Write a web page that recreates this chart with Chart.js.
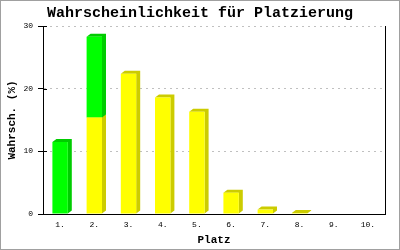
<!DOCTYPE html>
<html>
<head>
<meta charset="utf-8">
<script src="https://cdn.jsdelivr.net/npm/chart.js@4/dist/chart.umd.min.js"></script>
<style>
body{margin:0;background:#fff}
#wrap{width:400px;height:250px}
</style>
</head>
<body>
<div id="wrap"><canvas id="chart" width="400" height="250"></canvas></div>
<script>

let places=["1.","2.","3.","4.","5.","6.","7.","8.","9.","10."]

let yellowValues=[0,15.4,22.4,18.6,16.3,3.4,0.7,0.15,0,0]

let greenValues=[11.5,12.9,0,0,0,0,0,0,0,0]

let yTicks=[0,10,20,30]

let mono="'Liberation Mono', 'DejaVu Sans Mono', monospace"

// draws the right side and top of each bar so they look 3D
let depthPlugin={
id:"depth",
beforeDatasetsDraw(chart){
let ctx=chart.ctx
let dx=4,dy=3
chart.data.datasets.forEach((ds,i)=>{
let meta=chart.getDatasetMeta(i)
meta.data.forEach((bar,j)=>{
if(!ds.data[j]) return
let p=bar.getProps(["x","y","base","width"],true)
let l=p.x-p.width/2,r=p.x+p.width/2
ctx.save()
ctx.fillStyle=ds.depthColor
ctx.beginPath()
ctx.moveTo(l,p.y)
ctx.lineTo(l+dx,p.y-dy)
ctx.lineTo(r+dx,p.y-dy)
ctx.lineTo(r+dx,p.base-dy)
ctx.lineTo(r,p.base)
ctx.lineTo(r,p.y)
ctx.closePath()
ctx.fill()
ctx.restore()
})
})
},
afterDraw(chart){
let ctx=chart.ctx
let y=chart.scales.y
ctx.save()
// tick marks also poke a little into the plot
ctx.strokeStyle="#000"
ctx.lineWidth=1
yTicks.forEach(v=>{
if(v==0) return
let py=Math.round(y.getPixelForValue(v))+0.5
ctx.beginPath()
ctx.moveTo(chart.chartArea.left,py)
ctx.lineTo(chart.chartArea.left+4,py)
ctx.stroke()
})
ctx.strokeStyle="#a0a0a0"
ctx.strokeRect(0.5,0.5,chart.width-1,chart.height-1)
ctx.restore()
}
}

new Chart(document.getElementById("chart"),{

type:"bar",

data:{

labels:places,

datasets:[{
label:"gelb",
data:yellowValues,
backgroundColor:"#ffff00",
depthColor:"#cccc00",
categoryPercentage:1,
barPercentage:0.45
},{
label:"grün",
data:greenValues,
backgroundColor:"#00ff00",
depthColor:"#00cc00",
categoryPercentage:1,
barPercentage:0.45
}]

},

options:{

responsive:false,
animation:false,
events:[],

layout:{padding:{left:0,right:0,top:0,bottom:0}},

plugins:{
legend:{display:false},
tooltip:{enabled:false},
title:{
display:true,
text:"Wahrscheinlichkeit für Platzierung",
color:"#000",
font:{family:mono,size:15,weight:"bold"},
padding:{top:4,bottom:4}
}
},

scales:{

x:{
stacked:true,
grid:{display:false,drawTicks:false},
border:{color:"#000",width:1},
ticks:{color:"#000",font:{family:mono,size:8},padding:6,maxRotation:0},
title:{display:true,text:"Platz",color:"#000",font:{family:mono,size:11,weight:"bold"},padding:{top:0,bottom:3}},
afterFit(s){s.height=36}
},

y:{
stacked:true,
min:0,
max:30,
afterBuildTicks(s){s.ticks=yTicks.map(v=>({value:v}))},
grid:{color:"#c0c0c0",tickColor:"#000",tickLength:5},
border:{color:"#000",width:1,dash:[2,4]},
ticks:{color:"#000",font:{family:mono,size:8},padding:5},
title:{display:true,text:"Wahrsch. (%)",color:"#000",font:{family:mono,size:11,weight:"bold"},padding:{top:6,bottom:0}},
afterFit(s){s.width=43}
},

y2:{
position:"right",
min:0,
max:30,
grid:{display:false,drawTicks:false},
border:{color:"#000",width:1},
ticks:{display:false},
afterFit(s){s.width=15}
}

}

},

plugins:[depthPlugin]

})

</script>
</body>
</html>
